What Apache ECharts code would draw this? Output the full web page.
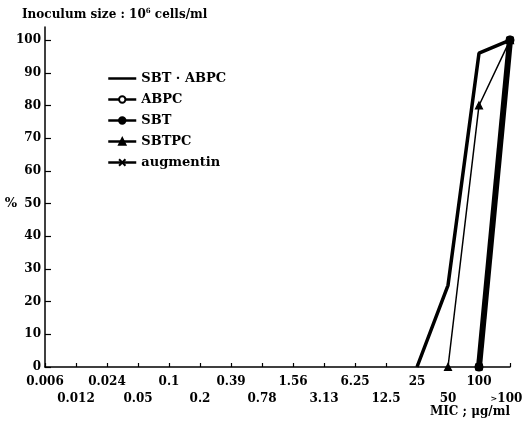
<!DOCTYPE html>
<html>
<head>
<meta charset="utf-8">
<script src="https://cdn.jsdelivr.net/npm/echarts@6/dist/echarts.min.js"></script>
<style>
  html, body { margin: 0; padding: 0; background: #fff; }
  #chart { width: 522px; height: 422px; }
</style>
</head>
<body>
<div id="chart"></div>
<script>
// MIC categories (μg/ml)
const micLabels = ['0.006', '0.012', '0.024', '0.05', '0.1', '0.2', '0.39', '0.78',
  '1.56', '3.13', '6.25', '12.5', '25', '50', '100', '>100'];
const yTicks = [0, 10, 20, 30, 40, 50, 60, 70, 80, 90, 100];

// cumulative % of strains inhibited
const sbtAbpc   = [null, null, null, null, null, null, null, null, null, null, null, null, 0, 25, 96, 100];
const abpc      = [null, null, null, null, null, null, null, null, null, null, null, null, null, null, 0, 100];
const sbt       = [null, null, null, null, null, null, null, null, null, null, null, null, null, null, 0, 100];
const sbtpc     = [null, null, null, null, null, null, null, null, null, null, null, null, null, 0, 80, 100];
const augmentin = [null, null, null, null, null, null, null, null, null, null, null, null, null, null, 0, 100];

const FONT = '"DejaVu Serif", "Liberation Serif", serif';
const crossSymbol = 'path://M0,0L10,10M10,0L0,10';

const chart = echarts.init(document.getElementById('chart'));

const baseSeries = (name, data, width, symbol, extra) => Object.assign({
  name: name,
  type: 'line',
  data: data,
  symbol: symbol,
  symbolSize: 7,
  connectNulls: false,
  lineStyle: { color: '#000', width: width },
  itemStyle: { color: '#000', borderColor: '#000', borderWidth: 1.2 },
  emphasis: { disabled: true },
  z: 3
}, extra || {});

const label = { fontFamily: FONT, fontSize: 12, fontWeight: 'bold', color: '#000' };

// two staggered rows of MIC labels; the ">" of ">100" is small like the print
const micFormatter = (v, i) => {
  const txt = v.charAt(0) === '>' ? '{gt|>}{n|' + v.slice(1) + '}' : v;
  return i % 2 ? '\n' + txt : txt;
};

chart.setOption({
  backgroundColor: '#fff',
  animation: false,
  textStyle: { fontFamily: FONT, color: '#000' },
  title: {
    text: 'Inoculum size : 10{sup|6} cells/ml',
    left: 17,
    top: 3,
    textStyle: Object.assign({}, label, {
      rich: {
        sup: { fontFamily: FONT, fontSize: 7, fontWeight: 'bold', verticalAlign: 'top', padding: [0, 0, 6, 0] }
      }
    })
  },
  legend: {
    orient: 'vertical',
    left: 107,
    top: 72,
    padding: 0,
    itemWidth: 28,
    itemHeight: 8,
    itemGap: 8,
    textStyle: { fontFamily: FONT, fontSize: 13, fontWeight: 'bold', color: '#000' },
    lineStyle: { width: 2.5 },
    data: [
      { name: 'SBT · ABPC', itemStyle: { opacity: 0 } },
      'ABPC', 'SBT', 'SBTPC', 'augmentin'
    ]
  },
  grid: { left: 45, right: 12, top: 27, bottom: 55, outerBoundsMode: 'none', containLabel: false },
  xAxis: {
    type: 'category',
    data: micLabels,
    boundaryGap: false,
    name: 'MIC ; μg/ml',
    nameLocation: 'end',
    nameGap: 0,
    nameMoveOverlap: false,
    nameTextStyle: Object.assign({}, label, {
      align: 'right', verticalAlign: 'top', padding: [39, 0, 0, 0]
    }),
    axisLine: { lineStyle: { color: '#000', width: 1.5 } },
    axisTick: { inside: true, length: 4, interval: 0, lineStyle: { color: '#000', width: 1.2 } },
    axisLabel: Object.assign({}, label, {
      lineHeight: 17, margin: 6, interval: 0, hideOverlap: false,
      formatter: micFormatter,
      rich: {
        gt: { fontFamily: FONT, fontSize: 8, fontWeight: 'bold', lineHeight: 17 },
        n: { fontFamily: FONT, fontSize: 12, fontWeight: 'bold', lineHeight: 17, padding: [0, 7, 0, 0] }
      }
    }),
    splitLine: { show: false }
  },
  yAxis: {
    type: 'value',
    min: 0,
    max: 104,
    name: '%',
    nameLocation: 'middle',
    nameGap: 28,
    nameRotate: 0,
    nameMoveOverlap: false,
    nameTextStyle: Object.assign({}, label, { fontSize: 13, verticalAlign: 'top' }),
    axisLine: { show: true, lineStyle: { color: '#000', width: 1.5 } },
    axisTick: { show: true, inside: true, length: 6, customValues: yTicks, lineStyle: { color: '#000', width: 1.2 } },
    axisLabel: Object.assign({}, label, { margin: 4, customValues: yTicks }),
    splitLine: { show: false }
  },
  series: [
    baseSeries('SBT · ABPC', sbtAbpc, 3.5, 'none'),
    baseSeries('ABPC', abpc, 2, 'emptyCircle', { itemStyle: { color: '#000' } }),
    baseSeries('SBT', sbt, 6, 'circle'),
    baseSeries('SBTPC', sbtpc, 1.5, 'triangle'),
    baseSeries('augmentin', augmentin, 2, crossSymbol, { itemStyle: { color: '#000', borderColor: '#000', borderWidth: 1.8 } })
  ]
});
</script>
</body>
</html>
